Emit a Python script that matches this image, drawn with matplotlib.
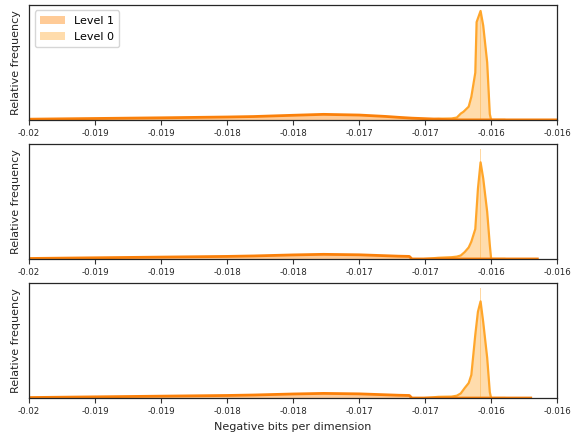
import matplotlib
matplotlib.use('Agg')
import matplotlib.pyplot as plt

# Tick positions / labels as shown on the chart (labels rounded to 3 decimals)
tick_pos = [-0.02, -0.0195, -0.019, -0.0185, -0.018, -0.0175, -0.017, -0.0165, -0.016]
tick_lbl = ['-0.02', '-0.019', '-0.019', '-0.018', '-0.018', '-0.017', '-0.017', '-0.016', '-0.016']

# Level 1: broad low hump (one row per panel)
lvl1_x = [
    [-0.02, -0.0195, -0.019, -0.0185, -0.0183, -0.018, -0.01777, -0.0175, -0.0173, -0.0172, -0.0171, -0.0169, -0.0168, -0.016],
    [-0.02, -0.0195, -0.019, -0.0185, -0.0183, -0.018, -0.01777, -0.0175, -0.0173, -0.0172, -0.01712, -0.0171, -0.0168, -0.01615],
    [-0.02, -0.0195, -0.019, -0.0185, -0.0183, -0.018, -0.01777, -0.0175, -0.0173, -0.0172, -0.01712, -0.0171, -0.0168, -0.0162],
]
lvl1_y = [
    [0.006, 0.012, 0.018, 0.025, 0.029, 0.040, 0.048, 0.042, 0.030, 0.022, 0.015, 0.006, 0.0, 0.0],
    [0.004, 0.010, 0.016, 0.022, 0.026, 0.035, 0.040, 0.036, 0.028, 0.024, 0.022, 0.0, 0.0, 0.0],
    [0.004, 0.010, 0.016, 0.022, 0.026, 0.035, 0.040, 0.036, 0.028, 0.024, 0.022, 0.0, 0.0, 0.0],
]

# Level 0: narrow peak near -0.0166
lvl0_x = [
    [-0.0170, -0.0169, -0.01680, -0.01676, -0.01673, -0.01671, -0.01667, -0.01665, -0.01662, -0.01661, -0.01658, -0.01656, -0.01653, -0.01651, -0.0165, -0.0164],
    [-0.0170, -0.0169, -0.01680, -0.01676, -0.01673, -0.01670, -0.01667, -0.01665, -0.01662, -0.01660, -0.01658, -0.01656, -0.01653, -0.01651, -0.0165, -0.0164],
    [-0.0170, -0.0169, -0.01680, -0.01676, -0.01673, -0.01670, -0.01667, -0.01665, -0.01662, -0.01660, -0.01658, -0.01656, -0.01653, -0.01651, -0.0165, -0.0164],
]
lvl0_y = [
    [0.0, 0.01, 0.012, 0.02, 0.055, 0.07, 0.115, 0.20, 0.41, 0.85, 0.947, 0.82, 0.50, 0.05, 0.0, 0.0],
    [0.0, 0.01, 0.015, 0.02, 0.03, 0.06, 0.10, 0.15, 0.26, 0.61, 0.84, 0.70, 0.41, 0.12, 0.0, 0.0],
    [0.0, 0.01, 0.012, 0.02, 0.04, 0.087, 0.13, 0.20, 0.55, 0.75, 0.84, 0.66, 0.35, 0.05, 0.0, 0.0],
]
# highest histogram bin of Level 0 (thin spike above the curve)
spike_x = [-0.01658, -0.01658, -0.01658]
spike_y = [0.95, 0.96, 0.96]

c1_line, c1_fill = '#fb8009', '#ff8c1a'
c0_line, c0_fill = '#ffa62b', '#ffb347'

fig, axes = plt.subplots(3, 1, figsize=(5.72, 4.41), dpi=100)
plt.subplots_adjust(left=0.051, right=0.974, top=0.989, bottom=0.0975, hspace=0.209)

for i, ax in enumerate(axes):
    ax.fill_between(lvl1_x[i], lvl1_y[i], color=c1_fill, alpha=0.45, lw=0, label='Level 1')
    ax.fill_between(lvl0_x[i], lvl0_y[i], color=c0_fill, alpha=0.45, lw=0, label='Level 0')
    ax.bar(spike_x[i], spike_y[i], width=0.000006, color=c0_fill, alpha=0.5, lw=0)
    ax.plot(lvl0_x[i], lvl0_y[i], color=c0_line, lw=1.6)
    ax.plot(lvl1_x[i], lvl1_y[i], color=c1_line, lw=2)
    ax.set_xlim(-0.02, -0.016)
    ax.set_ylim(0, 1)
    ax.set_yticks([])
    ax.set_xticks(tick_pos)
    ax.set_xticklabels(tick_lbl, fontsize=6.2, color='#262626')
    ax.tick_params(axis='x', length=3.5, width=0.8, color='#333333', pad=3)
    ax.set_ylabel('Relative frequency', fontsize=8, color='#262626', labelpad=6)
    for s in ax.spines.values():
        s.set_color('#262626')
        s.set_linewidth(0.9)

axes[0].legend(loc='upper left', fontsize=8, handlelength=2.2, borderpad=0.5, labelspacing=0.5)
axes[2].set_xlabel('Negative bits per dimension', fontsize=8, color='#262626', labelpad=4)

fig.savefig('out.png', dpi=100)
